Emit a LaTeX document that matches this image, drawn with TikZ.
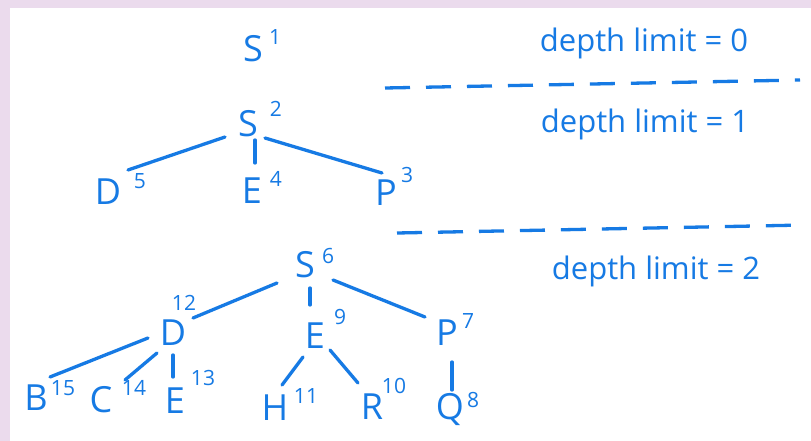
\documentclass[tikz,border=0pt]{standalone}
\usepackage{fontspec}
\setmainfont{Open Sans}
\usetikzlibrary{calc}
\definecolor{ink}{RGB}{22,122,228}
\definecolor{frame}{RGB}{235,219,237}
\tikzset{
  letter/.style={inner sep=0pt, text=ink, font=\fontsize{36}{37}\selectfont},
  sup/.style={inner sep=0pt, text=ink, font=\fontsize{21}{22}\selectfont},
  lim/.style={inner sep=0pt, text=ink, font=\fontsize{31}{32}\selectfont},
  edge/.style={draw=ink, line width=3.3pt, line cap=round},
  limline/.style={draw=ink, line width=3.3pt, dash pattern=on 25pt off 16pt}
}
\begin{document}
\begin{tikzpicture}[x=1pt,y=-1pt]
\fill[frame] (0,0) rectangle (811,441);
\fill[white] (10,8) rectangle (811,441);
\useasboundingbox (0,0) rectangle (811,441);

% depth 0
\node[letter] (S1) at (253,49) {S};
\node[sup] (n1) at (275,37) {1};
% depth 1
\node[letter] (S2) at (248,124) {S};
\node[sup] (n2) at (276,109) {2};
\node[letter] (D5) at (108,192) {D};
\node[sup] (n5) at (140,181) {5};
\node[letter] (E4) at (252,191) {E};
\node[sup] (n4) at (276,179) {4};
\node[letter] (P3) at (386,193) {P};
\node[sup] (n3) at (407,175) {3};
% depth 2
\node[letter] (S6) at (305,265) {S};
\node[sup] (n6) at (328,256) {6};
\node[letter] (D12) at (173,333) {D};
\node[sup] (n12) at (184,303) {12};
\node[letter] (E9) at (315,336) {E};
\node[sup] (n9) at (340,317) {9};
\node[letter] (P7) at (447,333) {P};
\node[sup] (n7) at (468,321) {7};
\node[letter] (B15) at (36,398) {B};
\node[sup] (n15) at (63,388) {15};
\node[letter] (C14) at (101,400) {C};
\node[sup] (n14) at (134,388) {14};
\node[letter] (E13) at (175,401) {E};
\node[sup] (n13) at (203,378) {13};
\node[letter] (H11) at (275,408) {H};
\node[sup] (n11) at (306,396) {11};
\node[letter] (R10) at (372,407) {R};
\node[sup] (n10) at (394,386) {10};
\node[letter] (Q8) at (450,410) {Q};
\node[sup] (n8) at (473,400) {8};

% edges
\draw[edge] ($(S2)+(-23,13)$) -- ($(D5)+(20,-22)$);
\draw[edge] ($(S2)+(7,16)$) -- ($(E4)+(3,-28)$);
\draw[edge] ($(S2)+(17,14)$) -- ($(P3)+(-4,-20)$);
\draw[edge] ($(S6)+(-28,18)$) -- ($(D12)+(20,-15)$);
\draw[edge] ($(S6)+(5,23)$) -- ($(E9)+(-5,-31)$);
\draw[edge] ($(S6)+(28,15)$) -- ($(P7)+(-22,-16)$);
\draw[edge] ($(D12)+(-25,5)$) -- ($(B15)+(14,-21)$);
\draw[edge] ($(D12)+(-16,20)$) -- ($(C14)+(24,-20)$);
\draw[edge] ($(D12)+(0,22)$) -- ($(E13)+(-2,-24)$);
\draw[edge] ($(E9)+(-12,21)$) -- ($(H11)+(7,-23)$);
\draw[edge] ($(E9)+(15,14)$) -- ($(R10)+(-14,-24)$);
\draw[edge] ($(P7)+(5,29)$) -- ($(Q8)+(2,-20)$);

% depth limits
\node[lim] (L0) at (644,43) {depth limit = 0};
\node[lim] (L1) at (645,124) {depth limit = 1};
\node[lim] (L2) at (656,271) {depth limit = 2};
\coordinate (d1a) at (385,88);
\coordinate (d1b) at (800,80);
\coordinate (d2a) at (397,233);
\coordinate (d2b) at (805,225);
\draw[limline] (d1a) -- (d1b);
\draw[limline] (d2a) -- (d2b);
\end{tikzpicture}
\end{document}
